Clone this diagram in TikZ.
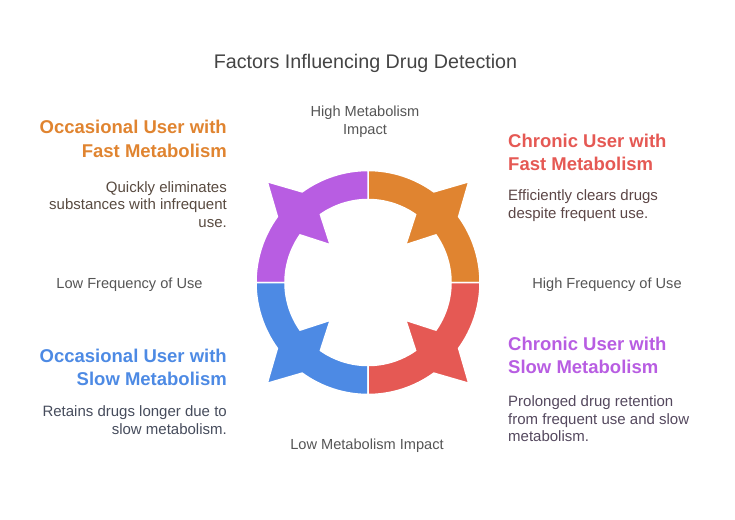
\documentclass[tikz,border=0pt]{standalone}
\usepackage{fontspec}
\setmainfont{Liberation Sans}
\definecolor{cOrange}{RGB}{224,132,48}
\definecolor{cRed}{RGB}{229,89,84}
\definecolor{cBlue}{RGB}{77,138,228}
\definecolor{cPurple}{RGB}{184,93,226}
\definecolor{txtOrange}{RGB}{88,74,64}
\definecolor{txtRed}{RGB}{92,70,70}
\definecolor{txtBlue}{RGB}{70,76,92}
\definecolor{txtPurple}{RGB}{84,72,94}
\definecolor{axisgray}{RGB}{85,85,85}
\definecolor{titlegray}{RGB}{68,68,68}
\tikzset{
  heading/.style={inner sep=0pt, font=\bfseries\fontsize{18.5}{23.5}\selectfont},
  desc/.style={inner sep=0pt, font=\fontsize{15}{17.5}\selectfont},
  axislabel/.style={inner sep=0pt, text=axisgray, align=center, font=\fontsize{14.6}{17.6}\selectfont},
}
\begin{document}
\begin{tikzpicture}[x=1pt,y=-1pt]
    % Khung hình
    \useasboundingbox (0,0) rectangle (735,519);
    % Tiêu đề
    \node[inner sep=0pt, anchor=base, text=titlegray, font=\fontsize{19.7}{23}\selectfont] (title) at (365.5,68) {Factors Influencing Drug Detection};

    % Vòng bốn mũi tên
    \begin{scope}[shift={(368,282.5)}, y=1pt]
    \foreach \a/\c in {0/cOrange,90/cPurple,180/cBlue,270/cRed}
    \filldraw[fill=\c, draw=white, line width=1.5pt]
        (\a:83) -- (\a:112) arc[start angle=\a, end angle=\a+36, radius=112]
        -- (\a+45:142.5) -- (\a+54:112) arc[start angle=\a+54, end angle=\a+90, radius=112]
        -- (\a+90:83) arc[start angle=\a+90, end angle=\a+55, radius=83]
        -- (\a+45:53.5) -- (\a+35:83) arc[start angle=\a+35, end angle=\a, radius=83] -- cycle;
    \end{scope}

    % Nhãn các trục
    \node[axislabel, anchor=north] (hiMet) at (365,106) {High Metabolism\\Impact};
    \node[axislabel, anchor=base] (loMet) at (367,449) {Low Metabolism Impact};
    \node[axislabel, anchor=base] (loFreq) at (129.5,288) {Low Frequency of Use};
    \node[axislabel, anchor=base] (hiFreq) at (607,288) {High Frequency of Use};

    % Góc trên bên trái
    \node[heading, text=cOrange, align=right, anchor=north east] (occFast) at (227,120) {Occasional User with\\Fast Metabolism};
    \node[desc, text=txtOrange, align=right, anchor=north east] (occFastTxt) at (227,181) {Quickly eliminates\\substances with infrequent\\use.};

    % Góc trên bên phải
    \node[heading, text=cRed, align=left, anchor=north west] (chrFast) at (508,133.5) {Chronic User with\\Fast Metabolism};
    \node[desc, text=txtRed, align=left, anchor=north west] (chrFastTxt) at (508,189.5) {Efficiently clears drugs\\despite frequent use.};

    % Góc dưới bên trái
    \node[heading, text=cBlue, align=right, anchor=north east] (occSlow) at (227,348.5) {Occasional User with\\Slow Metabolism};
    \node[desc, text=txtBlue, align=right, anchor=north east] (occSlowTxt) at (227,405.5) {Retains drugs longer due to\\slow metabolism.};

    % Góc dưới bên phải
    \node[heading, text=cPurple, align=left, anchor=north west] (chrSlow) at (508,336.5) {Chronic User with\\Slow Metabolism};
    \node[desc, text=txtPurple, align=left, anchor=north west] (chrSlowTxt) at (508,395.5) {Prolonged drug retention\\from frequent use and slow\\metabolism.};
\end{tikzpicture}
\end{document}
